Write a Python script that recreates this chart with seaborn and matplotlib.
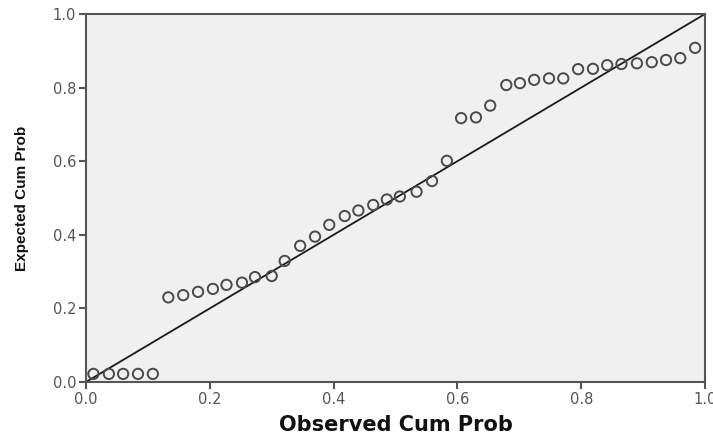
import matplotlib
matplotlib.use("Agg")
import matplotlib.pyplot as plt
import seaborn as sns
import pandas as pd

# Observed vs expected cumulative probabilities (P-P plot)
observed = [0.012, 0.037, 0.060, 0.084, 0.108,
            0.133, 0.157, 0.181, 0.205, 0.227, 0.252, 0.273, 0.300, 0.321,
            0.346, 0.370, 0.393, 0.418, 0.440, 0.464, 0.486, 0.507,
            0.534, 0.559, 0.583, 0.606, 0.630, 0.653, 0.679, 0.701, 0.724,
            0.748, 0.771, 0.795, 0.819, 0.842, 0.865, 0.890, 0.914, 0.937,
            0.960, 0.984]
expected = [0.022, 0.022, 0.022, 0.022, 0.022,
            0.230, 0.236, 0.245, 0.253, 0.264, 0.270, 0.285, 0.288, 0.329,
            0.370, 0.395, 0.427, 0.451, 0.466, 0.481, 0.496, 0.504,
            0.517, 0.546, 0.601, 0.717, 0.719, 0.751, 0.807, 0.812, 0.821,
            0.825, 0.825, 0.850, 0.851, 0.861, 0.864, 0.866, 0.869, 0.875,
            0.880, 0.908]
ref_line = [0.0, 1.0]

df = pd.DataFrame({"observed": observed, "expected": expected})

sns.set_style("ticks")
plt.rcParams['font.family'] = ['DejaVu Sans']

fig = plt.figure(figsize=(7.13, 4.33), dpi=100)
ax = fig.add_axes([0.1206, 0.1178, 0.8682, 0.8499])
ax.set_facecolor("#f0f0f0")

sns.lineplot(x=ref_line, y=ref_line, ax=ax, color="#1a1a1a", linewidth=1.3)
sns.scatterplot(data=df, x="observed", y="expected", ax=ax, s=55,
                facecolor="none", edgecolor="#4a4a4a", linewidth=1.4,
                zorder=3)

ax.set_xlim(0, 1)
ax.set_ylim(0, 1)
ticks = [0.0, 0.2, 0.4, 0.6, 0.8, 1.0]
ax.set_xticks(ticks)
ax.set_yticks(ticks)
ax.set_xticklabels([f"{t:.1f}" for t in ticks])
ax.set_yticklabels([f"{t:.1f}" for t in ticks])
ax.tick_params(axis="both", colors="#555555", labelsize=10.5, length=5,
               width=1.5, direction="out", pad=2)
for side in ["left", "bottom", "top", "right"]:
    ax.spines[side].set_color("#555555")
    ax.spines[side].set_linewidth(1.5)

ax.set_xlabel("Observed Cum Prob", fontsize=15, fontweight="bold",
              color="#111111", va="top")
ax.xaxis.set_label_coords(0.5, -0.09)
ax.set_ylabel("Expected Cum Prob", family="Liberation Sans",
              fontsize=11, fontweight="bold", color="#111111")
ax.yaxis.set_label_coords(-0.092, 0.5)

fig.savefig("out.png", dpi=100)
